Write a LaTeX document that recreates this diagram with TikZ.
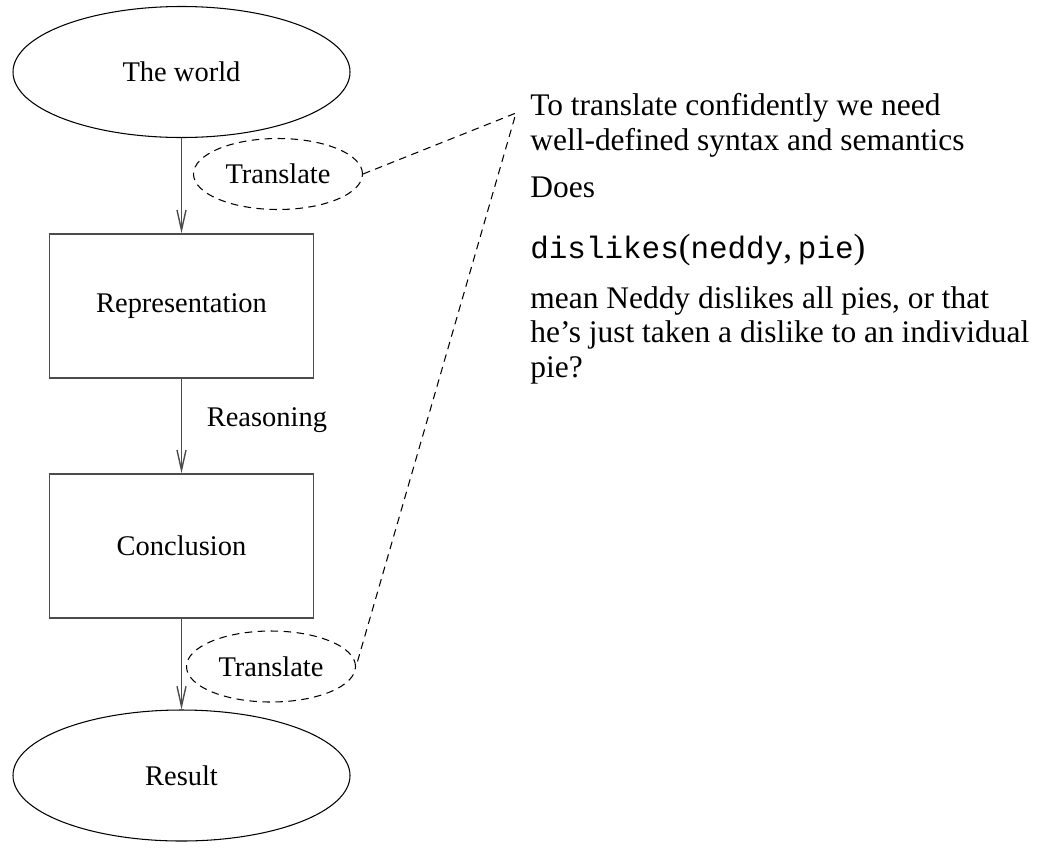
\documentclass[tikz,border=0pt]{standalone}
\usepackage{fontspec}
\setmainfont{Liberation Serif}
\newfontfamily\codefont{Liberation Mono}
\usetikzlibrary{shapes.geometric,arrows.meta,positioning}

\begin{document}
\begin{tikzpicture}[oval/.style = {draw, ellipse, line width=0.6pt, inner sep=0pt, minimum width=6.74cm, minimum height=2.62cm, font=\fontsize{16.2}{19}\selectfont},
    box/.style = {draw=black!70, rectangle, line width=0.8pt, inner sep=0pt, minimum width=5.28cm, minimum height=2.88cm, font=\fontsize{16.2}{19}\selectfont},
    bubble/.style = {draw, ellipse, dash pattern=on 1.5mm off 1.1mm, line width=0.6pt, inner sep=0pt, minimum width=3.38cm, minimum height=1.42cm, font=\fontsize{16.2}{19}\selectfont},
    flow/.style = {draw=black!70, line width=0.8pt, -{Straight Barb[length=4mm,width=1.8mm]}},
    note/.style = {anchor=base west, inner sep=0pt, font=\fontsize{17.9}{20}\selectfont}]
          \useasboundingbox (0,0) rectangle (20.88,-16.94);
          \node[oval] (world) at (3.63,-1.44) {The world};
          \node[box] (repr) [below of = world, node distance=4.68cm] {Representation};
          \node[box] (concl) [below of = repr, node distance=4.8cm] {Conclusion};
          \node[oval] (result) [below of = concl, node distance=4.59cm] {Result};
          \node[bubble] (tr1) at (5.56,-3.48) {Translate};
          \node[bubble] (tr2) at (5.42,-13.33) {Translate};
          \node[anchor=base west, inner sep=0pt, font=\fontsize{16.2}{19}\selectfont] (reason) at (4.13,-8.52) {Reasoning};
          \coordinate (tip) at (10.32,-2.26);
          \draw[flow] (world) -- (repr);
          \draw[flow] (repr) -- (concl);
          \draw[flow] (concl) -- (result);
          \draw[dash pattern=on 1.5mm off 1.1mm, line width=0.6pt] (tr1.east) -- (tip) -- (tr2.east);
          \node[note] (n1) at (10.6,-2.30) {To translate confidently we need};
          \node[note] (n2) at (10.6,-3.00) {well-defined syntax and semantics};
          \node[note] (n3) at (10.6,-3.94) {Does};
          \node[note, font=\fontsize{20}{22}\selectfont] (n4) at (10.6,-5.16) {{\fontsize{17.6}{20}\selectfont\codefont dislikes}({\fontsize{17.6}{20}\selectfont\codefont neddy},\,{\fontsize{17.6}{20}\selectfont\codefont pie})};
          \node[note] (n5) at (10.6,-6.16) {mean Neddy dislikes all pies, or that};
          \node[note] (n6) at (10.6,-6.84) {he’s just taken a dislike to an individual};
          \node[note] (n7) at (10.6,-7.54) {pie?};
        \end{tikzpicture}
\end{document}
